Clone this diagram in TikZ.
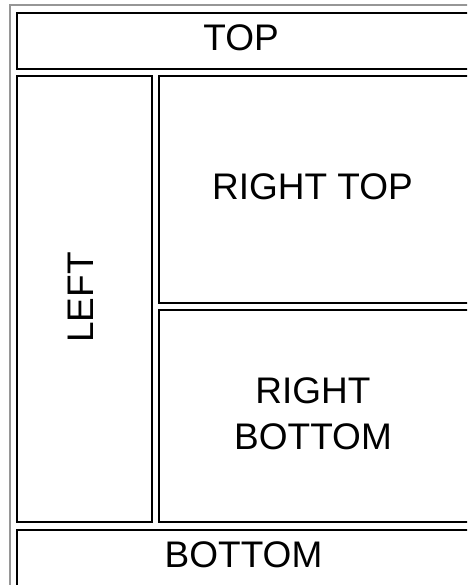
\documentclass[tikz,border=0pt]{standalone}
\usepackage{fontspec}
\setmainfont{Liberation Sans}
\begin{document}
\begin{tikzpicture}[x=1pt,y=-1pt,
  panel/.style={draw=black,line width=2pt,inner sep=0pt,anchor=north west},
  caption/.style={inner sep=0pt,align=center,font=\fontsize{37}{46}\selectfont}]
  \useasboundingbox (0,0) rectangle (467,585);
  \clip (0,0) rectangle (467,585);
  % outer frame
  \draw[draw={rgb,255:red,150;green,150;blue,150},line width=2.2pt] (10,5) rectangle (480,600);
  % panels
  \node[panel,minimum width=453pt,minimum height=56pt] (top) at (16,12) {};
  \node[panel,minimum width=135pt,minimum height=446pt] (left) at (16,75) {};
  \node[panel,minimum width=311pt,minimum height=227pt] (rtop) at (158,75) {};
  \node[panel,minimum width=311pt,minimum height=212pt] (rbot) at (158,309) {};
  \node[panel,minimum width=453pt,minimum height=55.5pt] (bottom) at (16,529) {};
  % captions
  \node[caption] (toptext) at (241,37.5) {TOP};
  \node[caption,rotate=90] (lefttext) at (81,297.5) {LEFT};
  \node[caption] (rtoptext) at (312.5,186.5) {RIGHT TOP};
  \node[caption] (rbottext) at (313,413.5) {RIGHT\\BOTTOM};
  \node[caption] (bottomtext) at (243.5,554.5) {BOTTOM};
\end{tikzpicture}
\end{document}
